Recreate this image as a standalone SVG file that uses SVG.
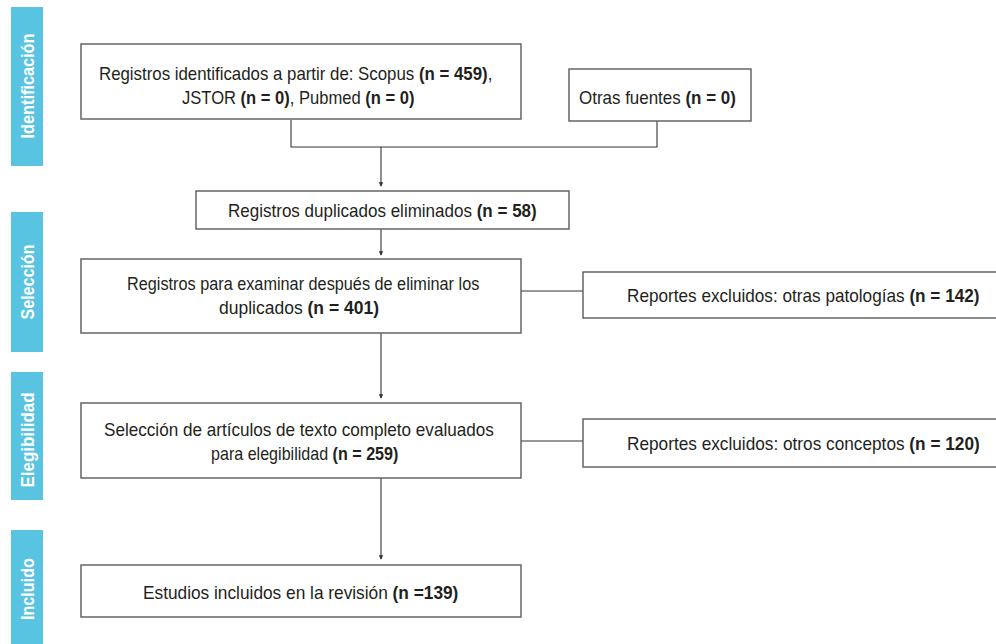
<svg xmlns="http://www.w3.org/2000/svg" width="996" height="644" viewBox="0 0 996 644">
<style>
.bar{fill:#58c4e1}
.lbl{font-family:"Liberation Sans Narrow","Liberation Sans",Arial,sans-serif;font-weight:bold;font-size:18px;fill:#ffffff;text-anchor:middle}
.box{fill:#ffffff;stroke:#5a5a5a;stroke-width:1.4}
.t{font-family:"Liberation Sans Narrow","Liberation Sans",Arial,sans-serif;font-size:17.5px;fill:#231f20}
.b{font-weight:bold}
.c{fill:none;stroke:#333333;stroke-width:1.1}
</style>
<defs>
<marker id="ah" viewBox="0 0 6 6" refX="5" refY="3" markerWidth="4" markerHeight="4" orient="auto">
<path d="M0,0 L6,3 L0,6 z" fill="#333333"/>
</marker>
</defs>
<rect width="996" height="644" fill="#ffffff"/>
<g id="phase-identificacion">
<rect class="bar" x="11" y="7" width="32" height="159"/>
<text class="lbl" transform="translate(33.5,86) rotate(-90)" textLength="105" lengthAdjust="spacingAndGlyphs">Identificación</text>
</g>
<g id="phase-seleccion">
<rect class="bar" x="11" y="212" width="32" height="140"/>
<text class="lbl" transform="translate(33.5,282) rotate(-90)" textLength="75" lengthAdjust="spacingAndGlyphs">Selección</text>
</g>
<g id="phase-elegibilidad">
<rect class="bar" x="11" y="372" width="32" height="128"/>
<text class="lbl" transform="translate(33.5,440) rotate(-90)" textLength="95" lengthAdjust="spacingAndGlyphs">Elegibilidad</text>
</g>
<g id="phase-incluido">
<rect class="bar" x="11" y="530" width="32" height="114"/>
<text class="lbl" transform="translate(33.5,589) rotate(-90)" textLength="62" lengthAdjust="spacingAndGlyphs">Incluido</text>
</g>
<g id="connectors">
<path class="c" d="M291,120 V147 H657 V121"/>
<path class="c" d="M381,147 V186" marker-end="url(#ah)"/>
<path class="c" d="M381,229 V255" marker-end="url(#ah)"/>
<path class="c" d="M521,291 H583"/>
<path class="c" d="M381,333 V398" marker-end="url(#ah)"/>
<path class="c" d="M521,441 H583"/>
<path class="c" d="M381,478 V559" marker-end="url(#ah)"/>
</g>
<g id="n1">
<rect class="box" x="81" y="44" width="440" height="75"/>
<text class="t" transform="translate(99,80) scale(0.963,1)">Registros identificados a partir de: Scopus <tspan class="b">(n = 459)</tspan>,</text>
<text class="t" transform="translate(182,104) scale(0.947,1)">JSTOR <tspan class="b">(n = 0)</tspan>, Pubmed <tspan class="b">(n = 0)</tspan></text>
</g>
<g id="n2">
<rect class="box" x="569" y="69" width="182" height="52"/>
<text class="t" transform="translate(579,104) scale(0.969,1)">Otras fuentes <tspan class="b">(n = 0)</tspan></text>
</g>
<g id="n3">
<rect class="box" x="196" y="191" width="373" height="38"/>
<text class="t" transform="translate(228,217) scale(0.973,1)">Registros duplicados eliminados <tspan class="b">(n = 58)</tspan></text>
</g>
<g id="n4">
<rect class="box" x="81" y="259" width="440" height="74"/>
<text class="t" transform="translate(127,290) scale(0.93,1)">Registros para examinar después de eliminar los</text>
<text class="t" transform="translate(219,314) scale(1.0,1)">duplicados <tspan class="b">(n = 401)</tspan></text>
</g>
<g id="n5">
<rect class="box" x="583" y="272" width="420" height="46"/>
<text class="t" transform="translate(627,302) scale(0.981,1)">Reportes excluidos: otras patologías <tspan class="b">(n = 142)</tspan></text>
</g>
<g id="n6">
<rect class="box" x="81" y="403" width="440" height="75"/>
<text class="t" transform="translate(104,436) scale(0.978,1)">Selección de artículos de texto completo evaluados</text>
<text class="t" transform="translate(211,460) scale(0.92,1)">para elegibilidad <tspan class="b">(n = 259)</tspan></text>
</g>
<g id="n7">
<rect class="box" x="583" y="419" width="420" height="48"/>
<text class="t" transform="translate(627,450) scale(0.984,1)">Reportes excluidos: otros conceptos <tspan class="b">(n = 120)</tspan></text>
</g>
<g id="n8">
<rect class="box" x="81" y="565" width="440" height="52"/>
<text class="t" transform="translate(143,599) scale(0.988,1)">Estudios incluidos en la revisión <tspan class="b">(n =139)</tspan></text>
</g>
</svg>
